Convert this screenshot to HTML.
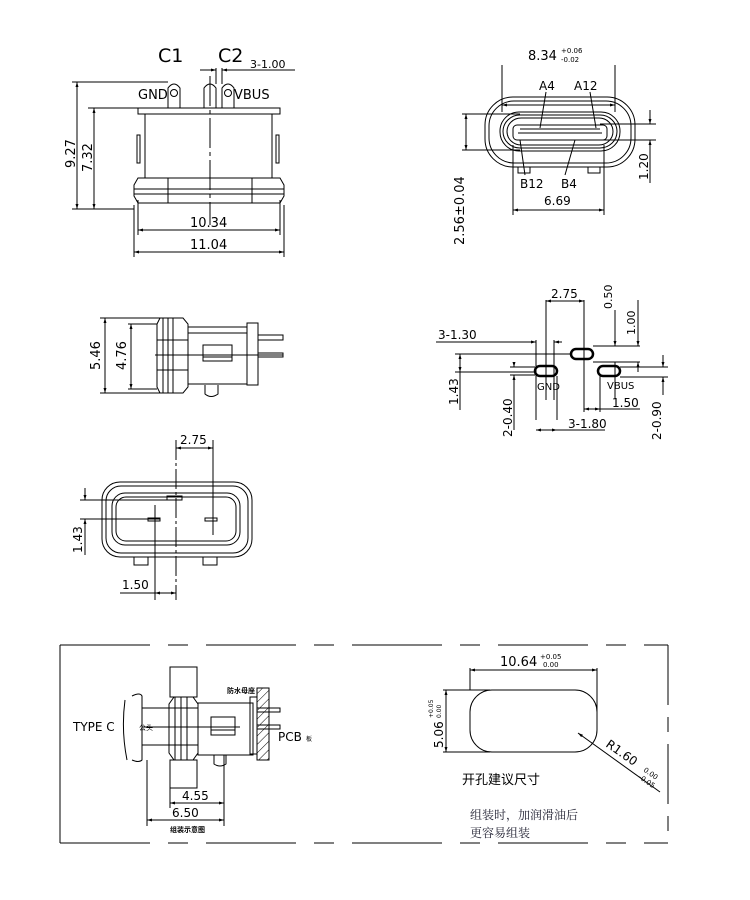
<!DOCTYPE html>
<html><head><meta charset="utf-8"><style>
html,body{margin:0;padding:0;background:#fff;}
svg{display:block;}
text{font-family:"DejaVu Sans","Liberation Sans",sans-serif;fill:#000;}
.c{font-family:"Liberation Sans","Noto Sans CJK SC",sans-serif;}
</style></head><body>
<svg width="750" height="900" viewBox="0 0 750 900" xmlns="http://www.w3.org/2000/svg">
<defs>
<marker id="a" viewBox="0 0 10 10" refX="10" refY="5" markerWidth="7" markerHeight="5" orient="auto-start-reverse"><path d="M0,2 L10,5 L0,8z" fill="#000"/></marker>
<pattern id="h" width="6" height="6" patternUnits="userSpaceOnUse" patternTransform="rotate(45)"><line x1="0" y1="0" x2="0" y2="6" stroke="#000" stroke-width="1"/></pattern>
</defs>
<g fill="none" stroke="#000" stroke-width="1">
<!-- ===== Top-left view ===== -->
<path d="M168,108 V88 Q174,80 180,88 V108 M204,108 V88 Q210,80 216,88 V108 M222,108 V88 Q228,80 234,88 V108"/>
<circle cx="174" cy="93" r="3.5"/><circle cx="228" cy="93" r="3.5"/>
<rect x="138" y="108" width="142" height="6"/>
<rect x="145" y="114" width="127" height="64"/>
<rect x="137" y="135" width="3" height="28"/><rect x="276" y="135" width="3" height="28"/>
<path d="M138,178 H280 L284,185 V196 L280,203 H138 L134,196 V185 Z"/>
<line x1="134" y1="189" x2="284" y2="189"/><line x1="134" y1="194" x2="284" y2="194"/>
<line x1="168" y1="178" x2="168" y2="203"/><line x1="252" y1="178" x2="252" y2="203"/>
<line x1="210" y1="76" x2="210" y2="225" stroke-dasharray="30,4,4,4"/>
<line x1="72" y1="82" x2="168" y2="82"/><line x1="88" y1="108" x2="138" y2="108"/>
<line x1="72" y1="209" x2="134" y2="209"/>
<line x1="77" y1="82" x2="77" y2="209" marker-start="url(#a)" marker-end="url(#a)"/>
<line x1="94" y1="108" x2="94" y2="209" marker-start="url(#a)" marker-end="url(#a)"/>
<line x1="138" y1="200" x2="138" y2="235"/><line x1="280" y1="200" x2="280" y2="235"/>
<line x1="134" y1="205" x2="134" y2="257"/><line x1="284" y1="205" x2="284" y2="257"/>
<line x1="138" y1="230" x2="280" y2="230" marker-start="url(#a)" marker-end="url(#a)"/>
<line x1="134" y1="252" x2="284" y2="252" marker-start="url(#a)" marker-end="url(#a)"/>
<line x1="216" y1="68" x2="216" y2="84"/><line x1="222" y1="68" x2="222" y2="84"/>
<line x1="200" y1="70" x2="216" y2="70" marker-end="url(#a)"/><line x1="238" y1="70" x2="222" y2="70" marker-end="url(#a)"/>
<line x1="238" y1="70" x2="295" y2="70"/>

<!-- ===== Top-right view ===== -->
<rect x="485" y="97" width="150" height="70" rx="28"/>
<rect x="489" y="101" width="142" height="62" rx="25"/>
<rect x="500" y="112" width="120" height="39" rx="19"/>
<rect x="503" y="115" width="114" height="33" rx="17"/>
<rect x="507" y="118" width="106" height="27" rx="14"/>
<rect x="513" y="125" width="94" height="15" rx="4"/>
<line x1="518" y1="133" x2="602" y2="133"/>
<line x1="520" y1="129" x2="600" y2="129"/>
<path d="M518,167 v6 h12 v-6 M588,167 v6 h12 v-6"/>
<line x1="502" y1="65" x2="502" y2="112"/><line x1="615" y1="65" x2="615" y2="112"/>
<line x1="502" y1="105" x2="615" y2="105" marker-start="url(#a)" marker-end="url(#a)"/>
<line x1="546" y1="92" x2="540" y2="128"/><line x1="590" y1="92" x2="596" y2="128"/>
<line x1="525" y1="175" x2="520" y2="140"/><line x1="565" y1="175" x2="575" y2="140"/>
<line x1="513" y1="145" x2="513" y2="215"/><line x1="604" y1="145" x2="604" y2="215"/>
<line x1="513" y1="210" x2="604" y2="210" marker-start="url(#a)" marker-end="url(#a)"/>
<line x1="462" y1="114" x2="520" y2="114"/><line x1="462" y1="150" x2="520" y2="150"/>
<line x1="466" y1="114" x2="466" y2="150" marker-start="url(#a)" marker-end="url(#a)"/>
<line x1="600" y1="124" x2="656" y2="124"/><line x1="600" y1="140" x2="656" y2="140"/>
<line x1="650" y1="110" x2="650" y2="124" marker-end="url(#a)"/><line x1="650" y1="155" x2="650" y2="140" marker-end="url(#a)"/>
<line x1="650" y1="155" x2="650" y2="183"/>

<!-- ===== Mid-left side view ===== -->
<path d="M160,318 H183 L188,324 V387 L183,393 H160 L157,387 V324 Z"/>
<line x1="163" y1="318" x2="163" y2="393"/><line x1="168" y1="318" x2="168" y2="393"/><line x1="173" y1="318" x2="173" y2="393"/>
<line x1="157" y1="340" x2="188" y2="340"/><line x1="157" y1="370" x2="188" y2="370"/>
<rect x="188" y="327" width="59" height="57"/>
<line x1="188" y1="333" x2="247" y2="333"/>
<rect x="247" y="323" width="11" height="62"/>
<rect x="203" y="345" width="29" height="16"/><line x1="203" y1="357" x2="232" y2="357"/>
<path d="M205,385 v9 q6,5 13,0 v-9"/>
<path d="M258,335 H283 V340 H258 M258,353 H283 V357 H258"/>
<line x1="155" y1="355" x2="283" y2="355"/>
<line x1="100" y1="318" x2="160" y2="318"/><line x1="100" y1="393" x2="160" y2="393"/>
<line x1="128" y1="324" x2="157" y2="324"/><line x1="128" y1="389" x2="157" y2="389"/>
<line x1="105" y1="318" x2="105" y2="393" marker-start="url(#a)" marker-end="url(#a)"/>
<line x1="131" y1="324" x2="131" y2="389" marker-start="url(#a)" marker-end="url(#a)"/>

<!-- ===== Lower-left front view ===== -->
<rect x="102" y="482" width="150" height="75" rx="18"/>
<rect x="106" y="486" width="142" height="67" rx="15"/>
<rect x="112" y="493" width="128" height="52" rx="13"/>
<rect x="116" y="497" width="120" height="44" rx="10"/>
<rect x="167" y="496" width="15" height="4"/>
<rect x="148" y="518" width="12" height="3"/><rect x="205" y="518" width="12" height="3"/>
<path d="M134,557 v8 h14 v-8 M203,557 v8 h14 v-8"/>
<line x1="176" y1="440" x2="176" y2="600" stroke-dasharray="20,3,3,3"/>
<line x1="213" y1="440" x2="213" y2="535"/>
<line x1="155" y1="505" x2="155" y2="600"/>
<line x1="176" y1="448" x2="213" y2="448" marker-start="url(#a)" marker-end="url(#a)"/>
<line x1="80" y1="500" x2="172" y2="500"/><line x1="80" y1="519" x2="160" y2="519"/>
<line x1="85" y1="488" x2="85" y2="500" marker-end="url(#a)"/><line x1="85" y1="531" x2="85" y2="519" marker-end="url(#a)"/>
<line x1="85" y1="531" x2="85" y2="555"/>
<line x1="120" y1="593" x2="155" y2="593"/>
<line x1="155" y1="593" x2="176" y2="593" marker-start="url(#a)" marker-end="url(#a)"/>

<!-- ===== Mid-right hole pattern ===== -->
<g stroke-width="2.5"><rect x="535" y="366" width="22" height="10" rx="5"/><rect x="571" y="349" width="22" height="10" rx="5"/><rect x="598" y="366" width="22" height="10" rx="5"/></g>
<line x1="546" y1="340" x2="546" y2="400"/><line x1="554" y1="340" x2="554" y2="400"/>
<line x1="536" y1="340" x2="536" y2="420"/><line x1="557" y1="376" x2="557" y2="420"/>
<line x1="546" y1="300" x2="546" y2="360"/><line x1="584" y1="300" x2="584" y2="412"/>
<line x1="546" y1="301" x2="584" y2="301" marker-start="url(#a)" marker-end="url(#a)"/>
<line x1="436" y1="342" x2="536" y2="342" marker-end="url(#a)"/><line x1="562" y1="342" x2="554" y2="342" marker-end="url(#a)"/>
<line x1="455" y1="354" x2="571" y2="354"/><line x1="455" y1="372" x2="535" y2="372"/>
<line x1="460" y1="354" x2="460" y2="372" marker-start="url(#a)" marker-end="url(#a)"/>
<line x1="460" y1="372" x2="460" y2="410"/>
<line x1="510" y1="367" x2="535" y2="367"/><line x1="510" y1="375" x2="535" y2="375"/>
<line x1="514" y1="362" x2="514" y2="367" marker-end="url(#a)"/><line x1="514" y1="380" x2="514" y2="375" marker-end="url(#a)"/>
<line x1="514" y1="380" x2="514" y2="430"/>
<line x1="536" y1="430" x2="557" y2="430" marker-start="url(#a)" marker-end="url(#a)"/>
<line x1="557" y1="430" x2="605" y2="430"/>
<line x1="593" y1="346" x2="640" y2="346"/><line x1="593" y1="362" x2="640" y2="362"/>
<line x1="615" y1="310" x2="615" y2="346" marker-end="url(#a)"/>
<line x1="638" y1="300" x2="638" y2="346" marker-end="url(#a)"/><line x1="638" y1="372" x2="638" y2="362" marker-end="url(#a)"/>
<line x1="620" y1="367" x2="668" y2="367"/><line x1="620" y1="377" x2="668" y2="377"/>
<line x1="663" y1="355" x2="663" y2="367" marker-end="url(#a)"/><line x1="663" y1="395" x2="663" y2="377" marker-end="url(#a)"/>
<line x1="615" y1="362" x2="615" y2="398"/><line x1="600" y1="376" x2="600" y2="412"/>
<line x1="584" y1="409" x2="600" y2="409" marker-start="url(#a)" marker-end="url(#a)"/>
<line x1="600" y1="409" x2="640" y2="409"/>

<!-- ===== Bottom frame ===== -->
<path d="M60,645 H668" stroke-dasharray="90,18,20,18"/>
<path d="M60,843 H668" stroke-dasharray="90,18,20,18"/>
<line x1="60" y1="645" x2="60" y2="843"/>
<path d="M668,645 V843" stroke-dasharray="60,12,15,12"/>

<!-- assembly -->
<rect x="170" y="667" width="27" height="30"/><rect x="170" y="760" width="27" height="28"/>
<path d="M174,697 H193 L198,704 V753 L193,760 H174 L169,753 V704 Z"/>
<line x1="175" y1="697" x2="175" y2="760"/><line x1="181" y1="697" x2="181" y2="760"/><line x1="187" y1="697" x2="187" y2="760"/>
<rect x="198" y="703" width="55" height="52"/>
<rect x="211" y="717" width="24" height="18"/><line x1="211" y1="730" x2="235" y2="730"/>
<rect x="250" y="697" width="7" height="57"/>
<rect x="257" y="688" width="12" height="72" fill="url(#h)"/>
<path d="M257,708 H280 V712 H257 M257,725 H280 V729 H257"/>
<path d="M214,755 v9 q6,4 12,0 v-9"/>
<path d="M132,696 q8,-4 10,0 V760 q-3,3 -10,0 M125,700 q-4,30 2,60"/>
<line x1="142" y1="708" x2="198" y2="708"/><line x1="142" y1="745" x2="198" y2="745"/>
<line x1="142" y1="727" x2="240" y2="727"/>
<line x1="170" y1="788" x2="170" y2="808"/><line x1="224" y1="755" x2="224" y2="826"/>
<line x1="147" y1="760" x2="147" y2="826"/>
<line x1="170" y1="803" x2="224" y2="803" marker-start="url(#a)" marker-end="url(#a)"/>
<line x1="147" y1="820" x2="224" y2="820" marker-start="url(#a)" marker-end="url(#a)"/>

<!-- cutout -->
<rect x="470" y="690" width="127" height="62" rx="22"/>
<line x1="470" y1="668" x2="470" y2="690"/><line x1="597" y1="668" x2="597" y2="715"/>
<line x1="470" y1="670" x2="597" y2="670" marker-start="url(#a)" marker-end="url(#a)"/>
<line x1="443" y1="690" x2="490" y2="690"/><line x1="443" y1="752" x2="490" y2="752"/>
<line x1="446" y1="690" x2="446" y2="752" marker-start="url(#a)" marker-end="url(#a)"/>
<line x1="578" y1="733" x2="660" y2="792" marker-start="url(#a)"/>
</g>
<!-- texts -->
<text x="158" y="62" font-size="19">C1</text>
<text x="218" y="62" font-size="19">C2</text>
<text x="250" y="68" font-size="11">3-1.00</text>
<text x="138" y="99" font-size="13">GND</text>
<text x="234" y="99" font-size="13">VBUS</text>
<text x="75" y="168" font-size="13" transform="rotate(-90 75 168)">9.27</text>
<text x="92" y="172" font-size="13" transform="rotate(-90 92 172)">7.32</text>
<text x="190" y="227" font-size="13">10.34</text>
<text x="190" y="249" font-size="13">11.04</text>
<text x="528" y="60" font-size="13">8.34</text>
<text x="561" y="53" font-size="7">+0.06</text>
<text x="561" y="62" font-size="7">-0.02</text>
<text x="539" y="90" font-size="12">A4</text>
<text x="574" y="90" font-size="12">A12</text>
<text x="520" y="188" font-size="12">B12</text>
<text x="561" y="188" font-size="12">B4</text>
<text x="544" y="205" font-size="12">6.69</text>
<text x="464" y="245" font-size="13" transform="rotate(-90 464 245)">2.56±0.04</text>
<text x="648" y="180" font-size="12" transform="rotate(-90 648 180)">1.20</text>
<text x="100" y="370" font-size="13" transform="rotate(-90 100 370)">5.46</text>
<text x="126" y="370" font-size="13" transform="rotate(-90 126 370)">4.76</text>
<text x="180" y="444" font-size="12">2.75</text>
<text x="82" y="553" font-size="12" transform="rotate(-90 82 553)">1.43</text>
<text x="122" y="589" font-size="12">1.50</text>
<text x="551" y="298" font-size="12">2.75</text>
<text x="612" y="309" font-size="11" transform="rotate(-90 612 309)">0.50</text>
<text x="635" y="335" font-size="11" transform="rotate(-90 635 335)">1.00</text>
<text x="438" y="339" font-size="12">3-1.30</text>
<text x="458" y="405" font-size="12" transform="rotate(-90 458 405)">1.43</text>
<text x="537" y="390" font-size="10">GND</text>
<text x="607" y="389" font-size="10">VBUS</text>
<text x="612" y="407" font-size="12">1.50</text>
<text x="512" y="437" font-size="12" transform="rotate(-90 512 437)">2-0.40</text>
<text x="568" y="428" font-size="12">3-1.80</text>
<text x="661" y="440" font-size="12" transform="rotate(-90 661 440)">2-0.90</text>
<text x="73" y="731" font-size="12">TYPE  C</text>
<text x="139" y="730" font-size="7" class="c">公头</text>
<text x="227" y="693" font-size="7" class="c" font-weight="bold">防水母座</text>
<text x="278" y="741" font-size="12">PCB</text><text x="306" y="741" font-size="6" class="c">板</text>
<text x="182" y="800" font-size="12">4.55</text>
<text x="172" y="817" font-size="12">6.50</text>
<text x="170" y="832" font-size="7" class="c" font-weight="bold">组装示意图</text>
<text x="500" y="666" font-size="13">10.64</text>
<text x="540" y="659" font-size="7">+0.05</text>
<text x="543" y="667" font-size="7">0.00</text>
<text x="443" y="748" font-size="12" transform="rotate(-90 443 748)">5.06</text>
<text x="433" y="718" font-size="6" transform="rotate(-90 433 718)">+0.05</text>
<text x="441" y="718" font-size="6" transform="rotate(-90 441 718)">0.00</text>
<text x="605" y="746" font-size="12" transform="rotate(35 605 746)">R1.60</text>
<text x="643" y="771" font-size="7" transform="rotate(35 643 771)">0.00</text>
<text x="638" y="778" font-size="7" transform="rotate(35 638 778)">-0.05</text>
<text x="462" y="784" font-size="13" class="c">开孔建议尺寸</text>
<text x="470" y="819" font-size="12" class="c" style="font-family:'Noto Serif CJK SC','Liberation Serif',serif;fill:#223">组装时，加润滑油后</text>
<text x="470" y="837" font-size="12" class="c" style="font-family:'Noto Serif CJK SC','Liberation Serif',serif;fill:#223">更容易组装</text>
</svg>
</body></html>
